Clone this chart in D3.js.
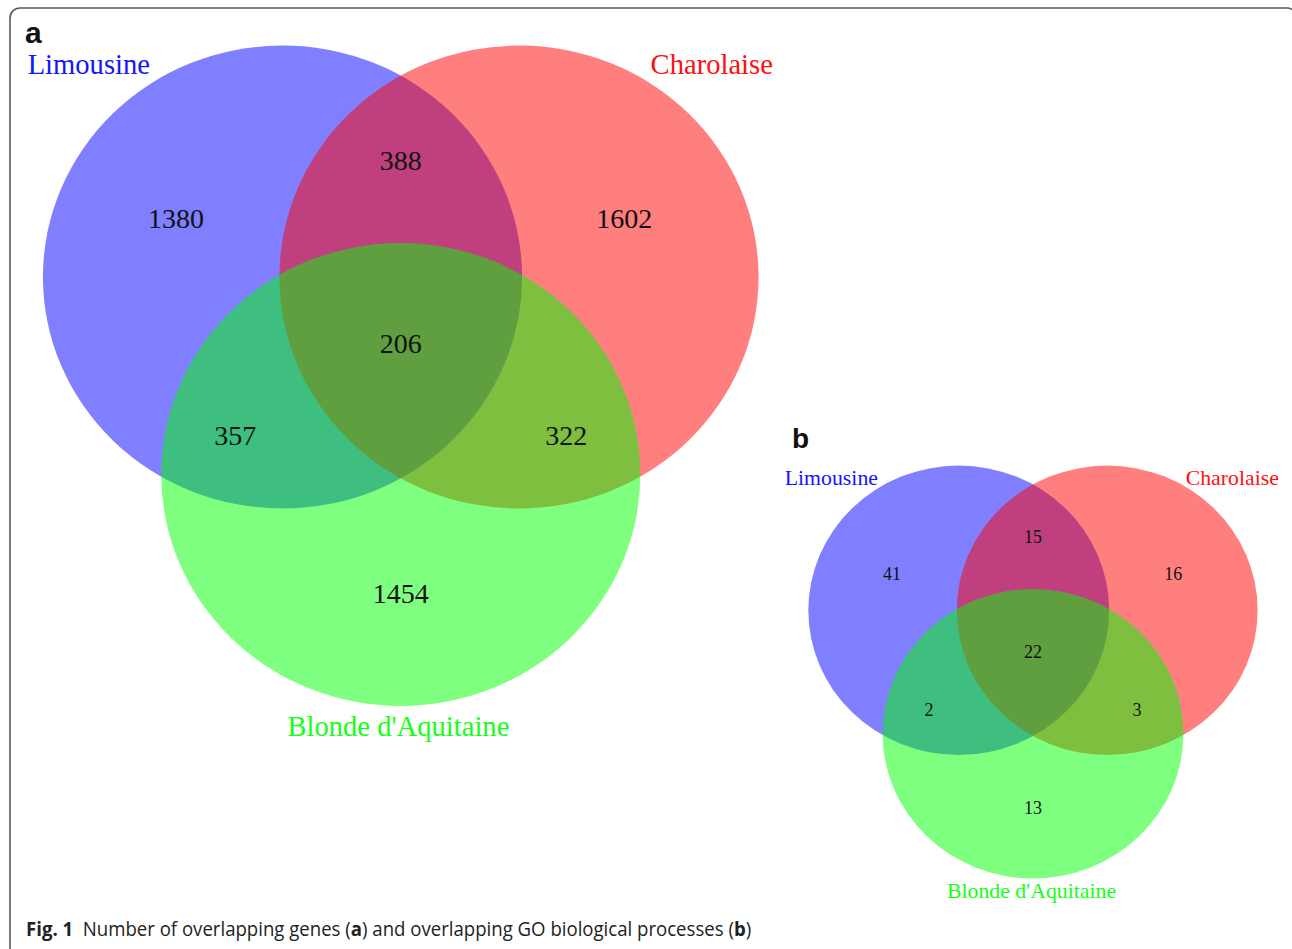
<!DOCTYPE html>
<html>
<head>
<meta charset="utf-8">
<script src="https://cdn.jsdelivr.net/npm/d3@7"></script>
<style>
  html, body { margin: 0; padding: 0; background: #fff; }
  svg { display: block; }
</style>
</head>
<body>
<script>
// Data
const setNames = ["Limousine", "Charolaise", "Blonde d'Aquitaine"];
const regionKeys = ["L", "C", "B", "LC", "LB", "CB", "LCB"];
const geneCounts = [1380, 1602, 1454, 388, 357, 322, 206];
const goCounts = [41, 16, 13, 15, 2, 3, 22];
const panelLetters = ["a", "b"];
const captionParts = [
  { t: "Fig. 1", b: true },
  { t: "  Number of overlapping genes (", b: false },
  { t: "a", b: true },
  { t: ") and overlapping GO biological processes (", b: false },
  { t: "b", b: true },
  { t: ")", b: false }
];

// Layout in venn units (distance between the two top centres = 1)
const circleUnits = [[-0.5, 0], [0.5, 0], [0, 0.853]];
const regionUnits = {
  L: [-0.95, -0.253], C: [0.945, -0.253], B: [0, 1.367],
  LC: [0, -0.505], LB: [-0.70, 0.685], CB: [0.70, 0.685], LCB: [0, 0.287]
};
const fills = ["#0000ff", "#ff0000", "#00ff00"];
const textColors = ["#1414ff", "#ff1010", "#14ff14"];

const W = 1292, H = 949;
const svg = d3.select("body").append("svg").attr("width", W).attr("height", H);

// frame
svg.append("rect")
  .attr("x", 10).attr("y", 8)
  .attr("width", 1287).attr("height", 952)
  .attr("rx", 10)
  .attr("fill", "none")
  .attr("stroke", "#5a5a5a")
  .attr("stroke-width", 1.6);

const panels = [
  { counts: geneCounts, x: [46, 755.5], y: [45.5, 740], num: 28, lab: 28.6, letter: [25, 43], ls: 30,
    setPos: [[-1.319, -0.92], [1.315, -0.92], [-0.01, 1.94]] },
  { counts: goCounts, x: [810.25, 1255.75], y: [465.6, 899.7], num: 18, lab: 21.8, letter: [792, 448], ls: 28,
    setPos: [[-1.358, -0.92], [1.342, -0.92], [-0.01, 1.94]] }
];

panels.forEach((p, pi) => {
  const x = d3.scaleLinear().domain([-1.5, 1.5]).range(p.x);
  const y = d3.scaleLinear().domain([-1, 2]).range(p.y);
  const g = svg.append("g");

  g.selectAll("ellipse")
    .data(circleUnits)
    .join("ellipse")
    .attr("cx", d => x(d[0]))
    .attr("cy", d => y(d[1]))
    .attr("rx", x(1.013) - x(0))
    .attr("ry", y(1) - y(0))
    .attr("fill", (d, i) => fills[i])
    .attr("fill-opacity", 0.5);

  g.selectAll("text.count")
    .data(regionKeys)
    .join("text")
    .attr("class", "count")
    .attr("x", k => x(regionUnits[k][0]))
    .attr("y", k => y(regionUnits[k][1]))
    .attr("dy", "0.34em")
    .attr("text-anchor", "middle")
    .attr("font-family", "'Liberation Serif', 'Times New Roman', serif")
    .attr("font-size", p.num)
    .attr("fill", "#111")
    .text((k, i) => p.counts[i]);

  g.selectAll("text.set")
    .data(setNames)
    .join("text")
    .attr("class", "set")
    .attr("x", (d, i) => x(p.setPos[i][0]))
    .attr("y", (d, i) => y(p.setPos[i][1]))
    .attr("dy", "0.34em")
    .attr("text-anchor", "middle")
    .attr("font-family", "'Liberation Serif', 'Times New Roman', serif")
    .attr("font-size", p.lab)
    .attr("fill", (d, i) => textColors[i])
    .text(d => d);

  svg.append("text")
    .attr("x", p.letter[0]).attr("y", p.letter[1])
    .attr("font-family", "'Liberation Sans', Arial, sans-serif")
    .attr("font-weight", "bold")
    .attr("font-size", p.ls)
    .attr("fill", "#111")
    .text(panelLetters[pi]);
});

// caption, squeezed horizontally to the width of the original
const cap = svg.append("text")
  .attr("font-family", "'Open Sans', 'Noto Sans', sans-serif")
  .attr("font-size", 20)
  .attr("fill", "#222")
  .attr("xml:space", "preserve")
  .style("white-space", "pre");
cap.selectAll("tspan")
  .data(captionParts)
  .join("tspan")
  .attr("font-weight", d => d.b ? "bold" : "normal")
  .text(d => d.t);
const capW = cap.node().getComputedTextLength();
cap.attr("transform", `translate(26,936) scale(${726 / capW},1)`);
</script>
</body>
</html>
